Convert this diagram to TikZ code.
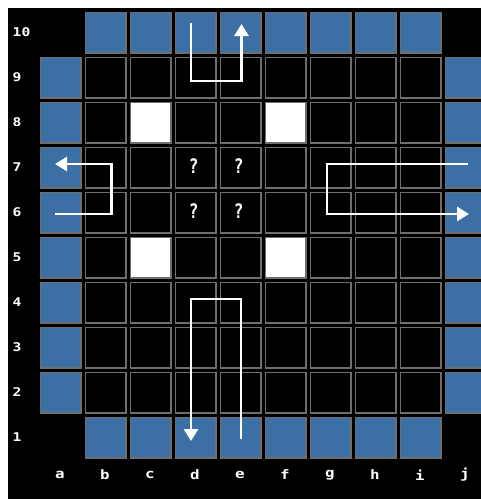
\documentclass[tikz,border=0pt]{standalone}
\usepackage{fontspec}
\setmonofont{DejaVu Sans Mono}
\usetikzlibrary{arrows.meta}
\definecolor{cellblue}{RGB}{60,112,165}
\definecolor{cellgray}{RGB}{110,110,110}
\newcommand{\widetxt}[1]{\scalebox{1.22}[1]{#1}}
\newcommand{\narrowtxt}[1]{\scalebox{0.8}[1]{#1}}
\tikzset{
  cellbox/.style={draw=cellgray, line width=1.6pt, minimum width=40.4pt, minimum height=40.4pt, inner sep=0pt, anchor=north west},
  blackcell/.style={cellbox, fill=black},
  bluecell/.style={cellbox, fill=cellblue},
  whitecell/.style={cellbox, fill=white},
  lbl/.style={text=white, font=\ttfamily\bfseries\fontsize{12}{12}\selectfont, inner sep=0pt},
  clbl/.style={text=white, font=\ttfamily\bfseries\fontsize{13}{13}\selectfont, inner sep=0pt},
  qmark/.style={text=white, font=\ttfamily\bfseries\fontsize{20}{20}\selectfont, inner sep=0pt},
  movearrow/.style={draw=white, line width=2.8pt, -{Triangle[width=14pt,length=12pt]}},
}
\begin{document}
\begin{tikzpicture}[x=1pt,y=-1pt]
\useasboundingbox (0,0) rectangle (481,499);
\fill[white] (0,0) rectangle (481,499);
\fill[black] (8,8) rectangle (481,499);
% cells
\foreach \c [count=\ci from 0] in {a,b,c,d,e,f,g,h,i,j}{
  \foreach \r in {1,...,10}{
    \pgfmathsetmacro{\xx}{39.8+45*\ci}
    \pgfmathsetmacro{\yy}{11.5+45*(10-\r)}
    \ifnum\r=1
      \ifnum\ci>0 \ifnum\ci<9
        \node[bluecell] (cell-\c\r) at (\xx,\yy) {};
      \fi\fi
    \else\ifnum\r=10
      \ifnum\ci>0 \ifnum\ci<9
        \node[bluecell] (cell-\c\r) at (\xx,\yy) {};
      \fi\fi
    \else
      \ifnum\ci=0
        \node[bluecell] (cell-\c\r) at (\xx,\yy) {};
      \else\ifnum\ci=9
        \node[bluecell] (cell-\c\r) at (\xx,\yy) {};
      \else
        \node[blackcell] (cell-\c\r) at (\xx,\yy) {};
      \fi\fi
    \fi\fi
  }
}
% white cells
\foreach \c/\ci in {c/2,f/5}{
  \foreach \r in {8,5}{
    \pgfmathsetmacro{\xx}{39.8+45*\ci}
    \pgfmathsetmacro{\yy}{11.5+45*(10-\r)}
    \node[whitecell] (white-\c\r) at (\xx,\yy) {};
  }
}
% question marks
\foreach \c in {d,e}{
  \foreach \r in {7,6}{
    \node[qmark] (q-\c\r) at ([xshift=-2pt,yshift=1pt]cell-\c\r.center) {\narrowtxt{?}};
  }
}
% row labels
\foreach \r in {1,...,10}{
  \node[lbl, anchor=west] (row-\r) at (12.5,{32+45*(10-\r)}) {\widetxt{\r}};
}
% column labels
\foreach \c [count=\ci from 0] in {a,b,c,d,e,f,g,h,i,j}{
  \node[clbl] (col-\c) at ({60+45*\ci},475) {\widetxt{\c}};
}
% arrow waypoints
\coordinate (t0) at (191,23);
\coordinate (t1) at (191,81);
\coordinate (t2) at (241.5,81);
\coordinate (t3) at (241.5,24);
\coordinate (l0) at (55,214);
\coordinate (l1) at (111.5,214);
\coordinate (l2) at (111.5,164);
\coordinate (l3) at (55,164);
\coordinate (r0) at (468,164);
\coordinate (r1) at (327,164);
\coordinate (r2) at (327,214);
\coordinate (r3) at (469,214);
\coordinate (b0) at (241,439);
\coordinate (b1) at (241,299);
\coordinate (b2) at (191,299);
\coordinate (b3) at (191,441);
\draw[movearrow] (t0) -- (t1) -- (t2) -- (t3);
\draw[movearrow] (l0) -- (l1) -- (l2) -- (l3);
\draw[movearrow] (r0) -- (r1) -- (r2) -- (r3);
\draw[movearrow] (b0) -- (b1) -- (b2) -- (b3);
\end{tikzpicture}
\end{document}
